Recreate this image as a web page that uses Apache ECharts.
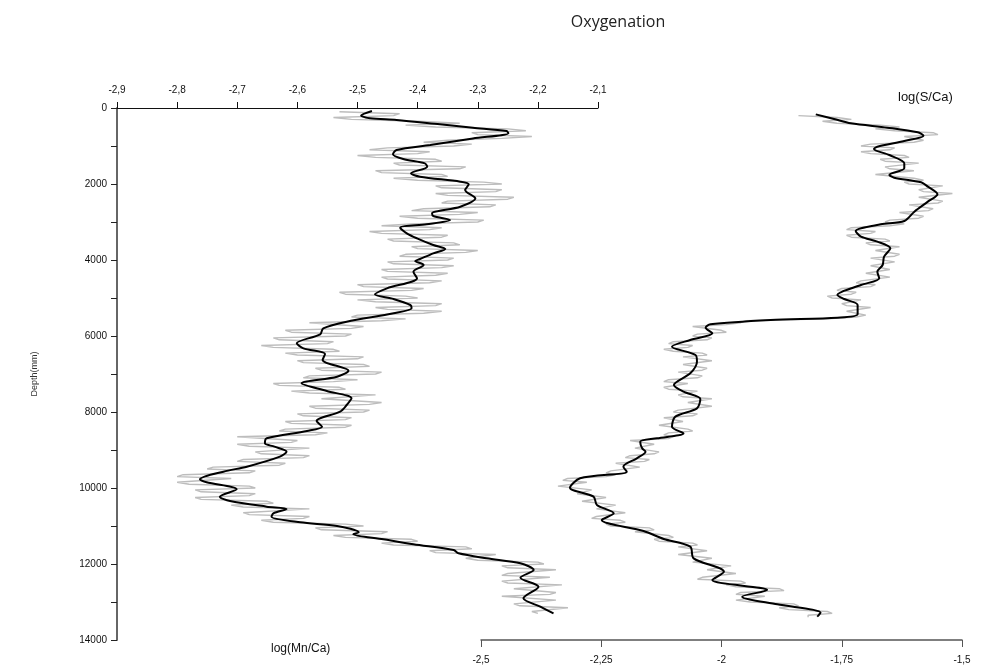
<!DOCTYPE html>
<html>
<head>
<meta charset="utf-8">
<script src="https://cdn.jsdelivr.net/npm/echarts@6/dist/echarts.min.js"></script>
<style>html,body{margin:0;padding:0;background:#fff;}#c{width:981px;height:667px;}</style>
</head>
<body>
<div id="c"></div>
<script>
// ---- Data ----
const mnTicks = [-2.9, -2.8, -2.7, -2.6, -2.5, -2.4, -2.3, -2.2, -2.1];
const sTicks = [-2.5, -2.25, -2, -1.75, -1.5];
const depthTicks = [0, 2000, 4000, 6000, 8000, 10000, 12000, 14000];

// log(Mn/Ca) smoothed (black)
const mnSmoothDepth = [79,200,270,316,430,518,605,667,800,974,1105,1218,1342,1456,1544,1719,1807,1939,2009,2158,2377,2597,2772,2842,2947,3061,3150,3297,3430,3605,3710,3825,3974,4026,4131,4307,4482,4745,4903,5026,5184,5272,5403,5623,5798,5955,6193,6324,6474,6632,6912,7070,7245,7447,7640,7816,7991,8237,8386,8500,8693,8825,8912,9044,9175,9439,9570,9771,9850,10034,10228,10342,10491,10553,10667,10754,10903,11000,11167,11219,11351,11482,11632,11719,11851,11982,12158,12360,12597,12903,13123,13298];
const mnSmooth = [-2.476,-2.494,-2.479,-2.435,-2.363,-2.308,-2.252,-2.249,-2.308,-2.379,-2.435,-2.441,-2.424,-2.388,-2.384,-2.411,-2.396,-2.329,-2.315,-2.321,-2.304,-2.329,-2.376,-2.374,-2.346,-2.385,-2.429,-2.418,-2.401,-2.374,-2.354,-2.374,-2.396,-2.404,-2.390,-2.407,-2.401,-2.451,-2.471,-2.440,-2.412,-2.410,-2.440,-2.518,-2.557,-2.562,-2.601,-2.590,-2.554,-2.558,-2.515,-2.534,-2.593,-2.551,-2.510,-2.518,-2.529,-2.568,-2.559,-2.584,-2.651,-2.654,-2.638,-2.618,-2.629,-2.684,-2.723,-2.762,-2.751,-2.701,-2.729,-2.712,-2.651,-2.618,-2.640,-2.643,-2.595,-2.534,-2.498,-2.507,-2.457,-2.407,-2.340,-2.332,-2.285,-2.229,-2.207,-2.229,-2.199,-2.224,-2.196,-2.174];

// log(Mn/Ca) raw (grey)
const mnRawDepth = [100,150,200,250,300,350,400,450,500,550,600,650,700,750,800,850,900,950,1000,1050,1100,1150,1200,1250,1300,1350,1400,1450,1500,1550,1600,1650,1700,1750,1800,1850,1900,1950,2000,2050,2100,2150,2200,2250,2300,2350,2400,2450,2500,2550,2600,2650,2700,2750,2800,2850,2900,2950,3000,3050,3100,3150,3200,3250,3300,3350,3400,3450,3500,3550,3600,3650,3700,3750,3800,3850,3900,3950,4000,4050,4100,4150,4200,4250,4300,4350,4400,4450,4500,4550,4600,4650,4700,4750,4800,4850,4900,4950,5000,5050,5100,5150,5200,5250,5300,5350,5400,5450,5500,5550,5600,5650,5700,5750,5800,5850,5900,5950,6000,6050,6100,6150,6200,6250,6300,6350,6400,6450,6500,6550,6600,6650,6700,6750,6800,6850,6900,6950,7000,7050,7100,7150,7200,7250,7300,7350,7400,7450,7500,7550,7600,7650,7700,7750,7800,7850,7900,7950,8000,8050,8100,8150,8200,8250,8300,8350,8400,8450,8500,8550,8600,8650,8700,8750,8800,8850,8900,8950,9000,9050,9100,9150,9200,9250,9300,9350,9400,9450,9500,9550,9600,9650,9700,9750,9800,9850,9900,9950,10000,10050,10100,10150,10200,10250,10300,10350,10400,10450,10500,10550,10600,10650,10700,10750,10800,10850,10900,10950,11000,11050,11100,11150,11200,11250,11300,11350,11400,11450,11500,11550,11600,11650,11700,11750,11800,11850,11900,11950,12000,12050,12100,12150,12200,12250,12300,12350,12400,12450,12500,12550,12600,12650,12700,12750,12800,12850,12900,12950,13000,13050,13100,13150,13200,13250,13300];
const mnRaw = [-2.53,-2.43,-2.44,-2.54,-2.51,-2.40,-2.33,-2.42,-2.37,-2.25,-2.22,-2.31,-2.30,-2.21,-2.26,-2.35,-2.39,-2.31,-2.34,-2.45,-2.48,-2.38,-2.40,-2.50,-2.47,-2.37,-2.36,-2.44,-2.43,-2.32,-2.33,-2.47,-2.46,-2.36,-2.35,-2.44,-2.40,-2.29,-2.26,-2.37,-2.36,-2.26,-2.27,-2.37,-2.35,-2.24,-2.25,-2.35,-2.36,-2.27,-2.28,-2.39,-2.41,-2.30,-2.33,-2.43,-2.40,-2.29,-2.30,-2.41,-2.46,-2.36,-2.38,-2.48,-2.46,-2.35,-2.36,-2.45,-2.44,-2.34,-2.33,-2.41,-2.40,-2.30,-2.32,-2.42,-2.43,-2.34,-2.35,-2.45,-2.44,-2.34,-2.36,-2.46,-2.45,-2.35,-2.37,-2.46,-2.45,-2.36,-2.38,-2.50,-2.49,-2.39,-2.41,-2.53,-2.52,-2.42,-2.40,-2.50,-2.47,-2.36,-2.37,-2.47,-2.45,-2.36,-2.39,-2.50,-2.51,-2.42,-2.46,-2.58,-2.58,-2.49,-2.51,-2.62,-2.61,-2.51,-2.52,-2.64,-2.63,-2.54,-2.55,-2.66,-2.64,-2.54,-2.53,-2.62,-2.60,-2.49,-2.50,-2.60,-2.59,-2.49,-2.48,-2.57,-2.56,-2.46,-2.47,-2.58,-2.59,-2.50,-2.54,-2.64,-2.63,-2.53,-2.52,-2.61,-2.58,-2.47,-2.47,-2.56,-2.56,-2.46,-2.48,-2.58,-2.57,-2.48,-2.49,-2.60,-2.59,-2.51,-2.52,-2.62,-2.61,-2.51,-2.52,-2.62,-2.63,-2.55,-2.57,-2.70,-2.70,-2.60,-2.61,-2.70,-2.68,-2.58,-2.58,-2.67,-2.66,-2.58,-2.59,-2.69,-2.70,-2.62,-2.63,-2.74,-2.75,-2.67,-2.68,-2.79,-2.80,-2.71,-2.71,-2.80,-2.78,-2.68,-2.67,-2.77,-2.76,-2.67,-2.68,-2.77,-2.76,-2.65,-2.64,-2.71,-2.69,-2.58,-2.58,-2.69,-2.68,-2.58,-2.59,-2.66,-2.64,-2.52,-2.49,-2.57,-2.56,-2.45,-2.46,-2.54,-2.52,-2.41,-2.40,-2.46,-2.44,-2.32,-2.31,-2.38,-2.37,-2.27,-2.27,-2.32,-2.30,-2.20,-2.19,-2.26,-2.25,-2.17,-2.17,-2.25,-2.26,-2.18,-2.18,-2.26,-2.25,-2.16,-2.16,-2.24,-2.24,-2.17,-2.18,-2.26,-2.26,-2.17,-2.17,-2.24,-2.23,-2.15,-2.15,-2.21,-2.20];

// log(S/Ca) smoothed (black)
const sSmoothDepth = [167,289,404,518,640,728,868,1018,1079,1237,1456,1588,1763,1833,1956,2070,2272,2465,2728,2974,3061,3237,3386,3518,3693,3912,4131,4307,4482,4658,4921,5026,5184,5430,5518,5579,5693,5781,5930,6105,6281,6500,6676,6982,7289,7465,7658,7903,8123,8386,8561,8693,8781,8956,9044,9219,9439,9570,9745,9991,10228,10447,10667,10842,11132,11342,11544,11851,12202,12421,12684,12860,13061,13281,13386];
const sSmooth = [-1.804,-1.766,-1.731,-1.655,-1.592,-1.580,-1.620,-1.676,-1.683,-1.651,-1.620,-1.620,-1.651,-1.641,-1.585,-1.571,-1.551,-1.571,-1.599,-1.620,-1.669,-1.721,-1.710,-1.676,-1.649,-1.662,-1.665,-1.676,-1.672,-1.710,-1.759,-1.745,-1.717,-1.717,-1.759,-1.898,-2.023,-2.033,-2.019,-2.065,-2.103,-2.054,-2.051,-2.065,-2.099,-2.079,-2.044,-2.051,-2.096,-2.103,-2.079,-2.134,-2.169,-2.165,-2.158,-2.176,-2.204,-2.197,-2.294,-2.315,-2.266,-2.259,-2.224,-2.249,-2.162,-2.120,-2.065,-2.058,-1.995,-2.019,-1.905,-1.957,-1.884,-1.794,-1.801];

// log(S/Ca) raw (grey)
const sRawDepth = [200,250,300,350,400,450,500,550,600,650,700,750,800,850,900,950,1000,1050,1100,1150,1200,1250,1300,1350,1400,1450,1500,1550,1600,1650,1700,1750,1800,1850,1900,1950,2000,2050,2100,2150,2200,2250,2300,2350,2400,2450,2500,2550,2600,2650,2700,2750,2800,2850,2900,2950,3000,3050,3100,3150,3200,3250,3300,3350,3400,3450,3500,3550,3600,3650,3700,3750,3800,3850,3900,3950,4000,4050,4100,4150,4200,4250,4300,4350,4400,4450,4500,4550,4600,4650,4700,4750,4800,4850,4900,4950,5000,5050,5100,5150,5200,5250,5300,5350,5400,5450,5500,5550,5600,5650,5700,5750,5800,5850,5900,5950,6000,6050,6100,6150,6200,6250,6300,6350,6400,6450,6500,6550,6600,6650,6700,6750,6800,6850,6900,6950,7000,7050,7100,7150,7200,7250,7300,7350,7400,7450,7500,7550,7600,7650,7700,7750,7800,7850,7900,7950,8000,8050,8100,8150,8200,8250,8300,8350,8400,8450,8500,8550,8600,8650,8700,8750,8800,8850,8900,8950,9000,9050,9100,9150,9200,9250,9300,9350,9400,9450,9500,9550,9600,9650,9700,9750,9800,9850,9900,9950,10000,10050,10100,10150,10200,10250,10300,10350,10400,10450,10500,10550,10600,10650,10700,10750,10800,10850,10900,10950,11000,11050,11100,11150,11200,11250,11300,11350,11400,11450,11500,11550,11600,11650,11700,11750,11800,11850,11900,11950,12000,12050,12100,12150,12200,12250,12300,12350,12400,12450,12500,12550,12600,12650,12700,12750,12800,12850,12900,12950,13000,13050,13100,13150,13200,13250,13300,13350,13400];
const sRaw = [-1.84,-1.76,-1.73,-1.79,-1.76,-1.67,-1.63,-1.68,-1.64,-1.56,-1.55,-1.62,-1.62,-1.58,-1.60,-1.69,-1.71,-1.64,-1.65,-1.71,-1.69,-1.62,-1.61,-1.67,-1.66,-1.59,-1.59,-1.66,-1.65,-1.60,-1.60,-1.68,-1.68,-1.60,-1.58,-1.62,-1.61,-1.54,-1.54,-1.59,-1.58,-1.52,-1.52,-1.59,-1.59,-1.54,-1.55,-1.61,-1.61,-1.56,-1.57,-1.63,-1.63,-1.58,-1.59,-1.65,-1.66,-1.62,-1.65,-1.73,-1.74,-1.68,-1.69,-1.74,-1.73,-1.66,-1.65,-1.70,-1.69,-1.63,-1.63,-1.68,-1.68,-1.63,-1.64,-1.69,-1.69,-1.64,-1.64,-1.69,-1.69,-1.65,-1.65,-1.70,-1.70,-1.65,-1.65,-1.71,-1.72,-1.68,-1.69,-1.75,-1.76,-1.72,-1.73,-1.78,-1.77,-1.71,-1.71,-1.75,-1.74,-1.69,-1.69,-1.74,-1.74,-1.70,-1.72,-1.78,-1.95,-1.96,-1.99,-2.06,-2.06,-2.00,-1.99,-2.05,-2.06,-2.02,-2.03,-2.10,-2.11,-2.06,-2.07,-2.12,-2.10,-2.04,-2.03,-2.08,-2.08,-2.02,-2.02,-2.08,-2.08,-2.03,-2.04,-2.09,-2.09,-2.04,-2.05,-2.11,-2.12,-2.07,-2.07,-2.12,-2.11,-2.05,-2.05,-2.09,-2.08,-2.02,-2.02,-2.07,-2.07,-2.02,-2.02,-2.09,-2.10,-2.05,-2.06,-2.12,-2.12,-2.08,-2.08,-2.13,-2.13,-2.07,-2.06,-2.11,-2.12,-2.10,-2.11,-2.19,-2.19,-2.14,-2.14,-2.18,-2.18,-2.13,-2.14,-2.19,-2.20,-2.15,-2.16,-2.22,-2.22,-2.17,-2.17,-2.23,-2.24,-2.22,-2.24,-2.32,-2.33,-2.28,-2.28,-2.34,-2.34,-2.27,-2.27,-2.30,-2.30,-2.24,-2.24,-2.29,-2.29,-2.22,-2.22,-2.26,-2.26,-2.20,-2.20,-2.26,-2.27,-2.21,-2.20,-2.24,-2.23,-2.15,-2.14,-2.18,-2.18,-2.11,-2.10,-2.14,-2.13,-2.06,-2.05,-2.09,-2.09,-2.03,-2.03,-2.09,-2.09,-2.02,-2.02,-2.06,-2.06,-1.98,-1.98,-2.03,-2.03,-1.97,-1.97,-2.04,-2.05,-1.96,-1.95,-1.99,-1.97,-1.88,-1.87,-1.96,-1.97,-1.91,-1.91,-1.97,-1.94,-1.85,-1.84,-1.88,-1.86,-1.78,-1.77,-1.82,-1.82];

// ---- Chart ----
function pairs(vals, depths) {
  const n = Math.min(vals.length, depths.length);
  const out = [];
  for (let i = 0; i < n; i++) out.push([vals[i], depths[i]]);
  return out;
}
function commaFmt(v) { return String(Math.round(v * 1000) / 1000).replace('.', ','); }

const chart = echarts.init(document.getElementById('c'), null, { renderer: 'canvas' });
const tickFont = { fontFamily: 'Liberation Sans', fontSize: 10, color: '#111' };

chart.setOption({
  animation: false,
  backgroundColor: '#fff',
  title: {
    text: 'Oxygenation', left: 613, top: 9, textAlign: 'center',
    textStyle: { fontFamily: 'Open Sans', fontWeight: 'normal', fontSize: 16, color: '#222' }
  },
  grid: [
    { left: 117, top: 108, width: 481, height: 532 },
    { left: 481, top: 108, width: 481, height: 532 }
  ],
  xAxis: [
    {
      type: 'value', gridIndex: 0, position: 'top',
      min: mnTicks[0], max: mnTicks[mnTicks.length - 1], interval: 0.1,
      axisLine: { show: true, onZero: false, lineStyle: { color: '#111', width: 1 } },
      axisTick: { show: true, length: 6, lineStyle: { color: '#111' } },
      axisLabel: Object.assign({ margin: 13, formatter: commaFmt }, tickFont),
      splitLine: { show: false }
    },
    {
      type: 'value', gridIndex: 1, position: 'bottom',
      min: sTicks[0], max: sTicks[sTicks.length - 1], interval: 0.25,
      axisLine: { show: true, onZero: false, lineStyle: { color: '#555', width: 1.5 } },
      axisTick: { show: true, length: 7, lineStyle: { color: '#555' } },
      axisLabel: Object.assign({ margin: 15, formatter: commaFmt }, tickFont),
      splitLine: { show: false }
    }
  ],
  yAxis: [
    {
      type: 'value', gridIndex: 0, inverse: true,
      min: depthTicks[0], max: depthTicks[depthTicks.length - 1], interval: 1000,
      name: 'Depth(mm)', nameLocation: 'middle', nameGap: 78, nameRotate: 90,
      nameTextStyle: { fontFamily: 'Liberation Sans', fontSize: 9, color: '#333' },
      axisLine: { show: true, onZero: false, lineStyle: { color: '#666', width: 2 } },
      axisTick: { show: true, length: 6, lineStyle: { color: '#222' } },
      axisLabel: Object.assign({
        margin: 10,
        formatter: v => (depthTicks.indexOf(v) >= 0 ? String(v) : '')
      }, tickFont),
      splitLine: { show: false }
    },
    {
      type: 'value', gridIndex: 1, inverse: true, show: false,
      min: depthTicks[0], max: depthTicks[depthTicks.length - 1]
    }
  ],
  graphic: [
    { type: 'text', left: 898, top: 91, style: { text: 'log(S/Ca)', fontFamily: 'Liberation Sans', fontSize: 13, fill: '#111' } },
    { type: 'text', left: 271, top: 643, style: { text: 'log(Mn/Ca)', fontFamily: 'Liberation Sans', fontSize: 12, fill: '#111' } }
  ],
  series: [
    {
      type: 'line', xAxisIndex: 0, yAxisIndex: 0, showSymbol: false, symbol: 'none',
      data: pairs(mnRaw, mnRawDepth), lineStyle: { color: '#bdbdbd', width: 1.4 }, z: 1
    },
    {
      type: 'line', xAxisIndex: 0, yAxisIndex: 0, showSymbol: false, symbol: 'none', smooth: 0.3,
      data: pairs(mnSmooth, mnSmoothDepth), lineStyle: { color: '#000', width: 2 }, z: 3
    },
    {
      type: 'line', xAxisIndex: 1, yAxisIndex: 1, showSymbol: false, symbol: 'none',
      data: pairs(sRaw, sRawDepth), lineStyle: { color: '#bdbdbd', width: 1.4 }, z: 1
    },
    {
      type: 'line', xAxisIndex: 1, yAxisIndex: 1, showSymbol: false, symbol: 'none', smooth: 0.3,
      data: pairs(sSmooth, sSmoothDepth), lineStyle: { color: '#000', width: 2 }, z: 3
    }
  ]
});
</script>
</body>
</html>
